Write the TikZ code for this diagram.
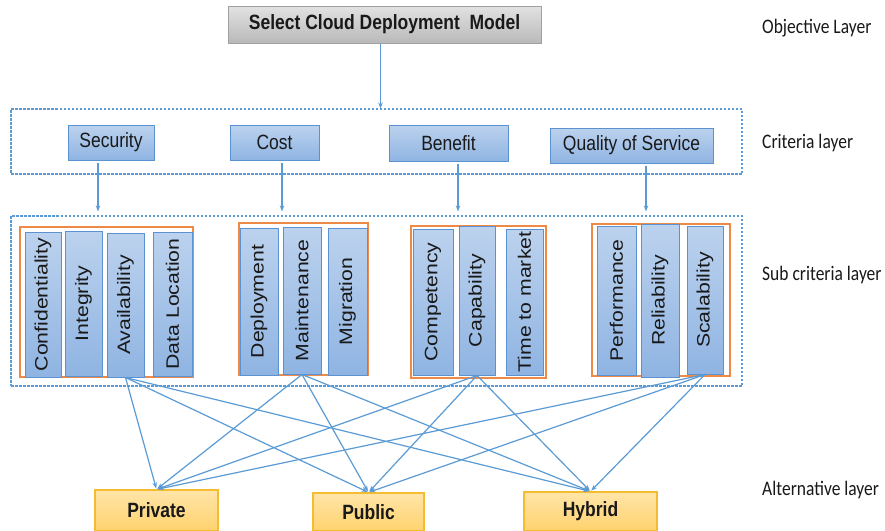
\documentclass[tikz,border=0pt]{standalone}
\usepackage{graphicx}
\usepackage{fontspec}
\setmainfont{Liberation Sans}
\newfontfamily\lblfont{Carlito}
\usetikzlibrary{arrows.meta,calc}
\definecolor{bbord}{HTML}{5B92D2}
\definecolor{btop}{HTML}{BCD2EE}
\definecolor{bbot}{HTML}{8FB4E2}
\definecolor{gtop}{HTML}{E2E2E2}
\definecolor{gbot}{HTML}{B9B9B9}
\definecolor{gbord}{HTML}{A0A0A0}
\definecolor{ytop}{HTML}{FFE5A8}
\definecolor{ybot}{HTML}{FFD26E}
\definecolor{ybord}{HTML}{F5BC32}
\definecolor{obord}{HTML}{EE8A45}
\definecolor{dashc}{HTML}{5B9BD5}
\definecolor{linec}{HTML}{5B9BD5}
\newcommand{\hst}[1]{\scalebox{1}[1.18]{#1}}
\newcommand{\vst}[1]{\rotatebox{90}{\scalebox{1.18}[1]{#1}}}
\begin{document}
\begin{tikzpicture}[x=1pt,y=-1pt,
  every node/.style={font=\fontsize{17.5}{20}\selectfont, inner sep=0pt, text=black!90},
  bluebox/.style={draw=bbord, line width=1pt, top color=btop, bottom color=bbot},
  vbox/.style={bluebox, font=\fontsize{18}{20}\selectfont},
  graybox/.style={draw=gbord, line width=1pt, top color=gtop, bottom color=gbot},
  altbox/.style={draw=ybord, line width=1.2pt, top color=ytop, bottom color=ybot, font=\fontsize{17.5}{20}\selectfont\bfseries},
  groupbox/.style={draw=obord, line width=1.5pt},
  layerbox/.style={draw=dashc, line width=1.1pt, dash pattern=on 2.5pt off 1.5pt},
  arr/.style={draw=linec, line width=1.2pt, -{Stealth[length=6pt,width=4.5pt]}},
  lbl/.style={anchor=west, font=\lblfont\fontsize{17.5}{20}\selectfont}
]
\clip (0,0) rectangle (885,530);
\fill[white] (0,0) rectangle (885,530);

% objective
\node[graybox, minimum width=313, minimum height=37, font=\fontsize{17.5}{20}\selectfont\bfseries] (obj) at (384.5,24.5) {\hst{Select Cloud Deployment\ \ Model}};

% layer frames
\node[layerbox, minimum width=731, minimum height=65] (critbox) at (376.5,141.5) {};
\node[layerbox, minimum width=731, minimum height=170] (subbox) at (376.5,301) {};

% criteria
\node[bluebox, minimum width=86, minimum height=35] (sec) at (111,142.5) {\hst{Security}};
\node[bluebox, minimum width=89, minimum height=35] (cost) at (274.5,142.5) {\hst{Cost}};
\node[bluebox, minimum width=119, minimum height=36] (ben) at (448.5,143) {\hst{Benefit}};
\node[bluebox, minimum width=163, minimum height=35] (qos) at (631.5,145.5) {\hst{Quality of Service}};

% groups
\node[groupbox, minimum width=173, minimum height=150] (g1) at (106.5,302) {};
\node[groupbox, minimum width=129, minimum height=152] (g2) at (303.5,299) {};
\node[groupbox, minimum width=135, minimum height=152] (g3) at (478.5,302) {};
\node[groupbox, minimum width=138, minimum height=152] (g4) at (661,300) {};

% sub criteria
\node[vbox, minimum width=36, minimum height=145] (conf) at (43,304.5) {\vst{Confidentiality}};
\node[vbox, minimum width=37, minimum height=145] (integ) at (83.5,303.5) {\vst{Integrity}};
\node[vbox, minimum width=37, minimum height=144] (avail) at (125.5,305) {\vst{Availability}};
\node[vbox, minimum width=39, minimum height=144] (dloc) at (172.5,304) {\vst{Data Location}};
\node[vbox, minimum width=38, minimum height=147] (deploy) at (259,301.5) {\vst{Deployment}};
\node[vbox, minimum width=38, minimum height=147] (maint) at (302,300.5) {\vst{Maintenance}};
\node[vbox, minimum width=39, minimum height=147] (migr) at (347.5,301.5) {\vst{Migration}};
\node[vbox, minimum width=40, minimum height=146] (comp) at (433,302) {\vst{Competency}};
\node[vbox, minimum width=36, minimum height=149] (capab) at (477,300.5) {\vst{Capability}};
\node[vbox, minimum width=37, minimum height=146] (ttm) at (524.5,302) {\vst{Time to market}};
\node[vbox, minimum width=39, minimum height=149] (perf) at (616.5,300.5) {\vst{Performance}};
\node[vbox, minimum width=38, minimum height=153] (reli) at (660,300.5) {\vst{Reliability}};
\node[vbox, minimum width=36, minimum height=148] (scal) at (705,300) {\vst{Scalability}};

% alternatives
\node[altbox, minimum width=123, minimum height=41] (priv) at (156.5,510.5) {\hst{Private}};
\node[altbox, minimum width=111, minimum height=38] (pub) at (368.5,512) {\hst{Public}};
\node[altbox, minimum width=133, minimum height=39] (hyb) at (590.5,511.5) {\hst{Hybrid}};

% layer labels
\node[lbl] (l1) at (762,28) {\hst{Objective Layer}};
\node[lbl] (l2) at (762,143) {\hst{Criteria layer}};
\node[lbl] (l3) at (762,275) {\hst{Sub criteria layer}};
\node[lbl] (l4) at (762,490) {\hst{Alternative layer}};

% connectors
\draw[arr] ([xshift=-4pt]obj.south) -- ([xshift=-4pt]obj.south |- critbox.north);
\draw[arr, shorten <=2pt, shorten >=4pt] ([xshift=-13pt]sec.south) -- ([xshift=-13pt]sec.south |- subbox.north);
\draw[arr, shorten <=2pt, shorten >=4pt] ([xshift=7.5pt]cost.south) -- ([xshift=7.5pt]cost.south |- subbox.north);
\draw[arr, shorten <=2pt, shorten >=4pt] ([xshift=9.5pt]ben.south) -- ([xshift=9.5pt]ben.south |- subbox.north);
\draw[arr, shorten <=2pt, shorten >=4pt] ([xshift=14.5pt]qos.south) -- ([xshift=14.5pt]qos.south |- subbox.north);

\foreach \s in {avail,maint,capab,scal}{
  \foreach \t in {priv,pub,hyb}{
    \draw[arr, shorten >=1pt] (\s.south) -- (\t.north);
  }
}
\end{tikzpicture}
\end{document}
